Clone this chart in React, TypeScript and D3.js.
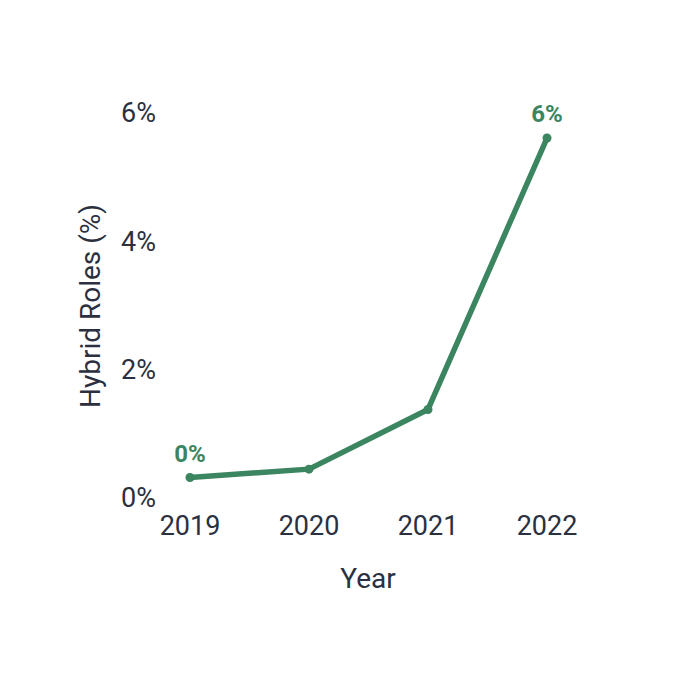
import React from "react";
import * as d3 from "d3";

const years = ["2019", "2020", "2021", "2022"];
const hybridShare = [0.32, 0.45, 1.38, 5.61];
const yTicks = [0, 2, 4, 6];
const labeledYears = ["2019", "2022"];

const W = 694;
const H = 686;
const margin = { left: 190, right: 147, top: 113, bottom: 188 };
const green = "#3b8560";
const ink = "#2b3040";

const App: React.FC = () => {
    const x = d3
        .scalePoint<string>()
        .domain(years)
        .range([margin.left, W - margin.right]);
    const y = d3
        .scaleLinear()
        .domain([0, 6])
        .range([H - margin.bottom, margin.top]);

    const pts = years.map((yr, i) => ({ yr, v: hybridShare[i] }));
    const line = d3
        .line<{ yr: string; v: number }>()
        .x((d) => x(d.yr) as number)
        .y((d) => y(d.v));

    return (
        <svg
            width={W}
            height={H}
            style={{ position: "absolute", left: 0, top: 0, background: "#fff" }}
            fontFamily="Roboto, sans-serif"
        >
            {yTicks.map((t) => (
                <text
                    key={t}
                    x={156}
                    y={y(t)}
                    dy="0.35em"
                    textAnchor="end"
                    fontSize={27}
                    fill={ink}
                >
                    {t}%
                </text>
            ))}
            {years.map((yr) => (
                <text
                    key={yr}
                    x={x(yr)}
                    y={526}
                    dy="0.35em"
                    textAnchor="middle"
                    fontSize={27}
                    fill={ink}
                >
                    {yr}
                </text>
            ))}
            <text x={368} y={578} dy="0.35em" textAnchor="middle" fontSize={28} fill={ink}>
                Year
            </text>
            <text
                transform={`translate(90,306) rotate(-90)`}
                dy="0.35em"
                textAnchor="middle"
                fontSize={28}
                fill={ink}
            >
                Hybrid Roles (%)
            </text>
            <path
                d={line(pts) || ""}
                fill="none"
                stroke={green}
                strokeWidth={5.5}
                strokeLinejoin="round"
                strokeLinecap="round"
            />
            {pts.map((d) => (
                <circle key={d.yr} cx={x(d.yr)} cy={y(d.v)} r={4.5} fill={green} />
            ))}
            {pts
                .filter((d) => labeledYears.includes(d.yr))
                .map((d) => (
                    <text
                        key={d.yr}
                        x={x(d.yr)}
                        y={y(d.v) - 24}
                        dy="0.35em"
                        textAnchor="middle"
                        fontSize={24}
                        fontWeight="bold"
                        fill={green}
                    >
                        {Math.round(d.v)}%
                    </text>
                ))}
        </svg>
    );
};

export default App;
